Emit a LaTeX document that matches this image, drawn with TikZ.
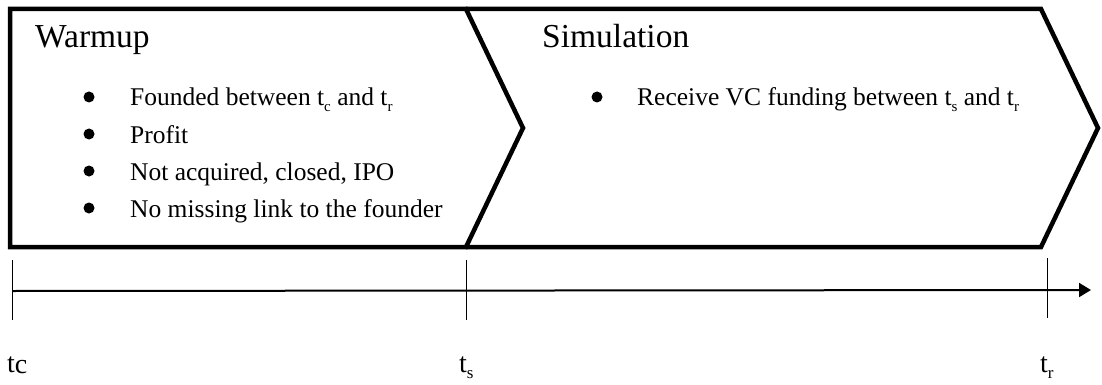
\documentclass[tikz,border=0pt]{standalone}
\usepackage{fontspec}
\setmainfont{Liberation Serif}
\usetikzlibrary{arrows.meta}
\newcommand{\lowsub}[1]{\raisebox{-0.5ex}{\fontsize{15}{15}\selectfont #1}}
\tikzset{
  chev/.style={line width=4.5pt, line join=miter, draw=black},
  title/.style={anchor=base west, font=\fontsize{33.5}{36}\selectfont, inner sep=0pt},
  item/.style={anchor=base west, font=\fontsize{25.5}{28}\selectfont, inner sep=0pt},
  dot/.style={circle, fill=black, inner sep=0pt, minimum size=11pt},
  tick/.style={line width=1pt},
  tlabel/.style={anchor=base west, font=\fontsize{28}{30}\selectfont, inner sep=0pt},
}
\begin{document}
\begin{tikzpicture}[x=1pt,y=-1pt]
\useasboundingbox (0,0) rectangle (1102,385);
% chevrons
\coordinate (a1) at (10,9);
\coordinate (a2) at (466,9);
\coordinate (a3) at (523,128);
\coordinate (a4) at (466,247);
\coordinate (a5) at (10,247);
\coordinate (b2) at (1041,9);
\coordinate (b3) at (1098,128);
\coordinate (b4) at (1041,247);
\draw[chev, fill=white] (a1) -- (a2) -- (a3) -- (a4) -- (a5) -- cycle;
\draw[chev] (a2) -- (b2) -- (b3) -- (b4) -- (a4);
% titles
\node[title] (warm) at (35,48) {Warmup};
\node[title] (sim) at (542,48) {Simulation};
% warmup items
\node[dot] (d1) at (89,97) {};
\node[item] (i1) at (130,106) {Founded between t\lowsub{c} and t\lowsub{r}};
\node[dot] (d2) at (89,134) {};
\node[item] (i2) at (130,143) {Profit};
\node[dot] (d3) at (89,171) {};
\node[item] (i3) at (130,180) {Not acquired, closed, IPO};
\node[dot] (d4) at (89,208) {};
\node[item] (i4) at (130,217) {No missing link to the founder};
% simulation items
\node[dot] (d5) at (597,97) {};
\node[item] (i5) at (637,106) {Receive VC funding between t\lowsub{s} and t\lowsub{r}};
% timeline
\coordinate (tc0) at (12,260); \coordinate (tc1) at (12,320);
\coordinate (ts0) at (466,260); \coordinate (ts1) at (466,320);
\coordinate (tr0) at (1047,258); \coordinate (tr1) at (1047,318);
\coordinate (ax0) at (13,291);
\coordinate (ax1) at (1091,290);
\draw[line width=2pt, -{Triangle[length=12pt,width=14pt]}] (ax0) -- (ax1);
\draw[tick] (tc0) -- (tc1);
\draw[tick] (ts0) -- (ts1);
\draw[tick] (tr0) -- (tr1);
\node[tlabel] (lc) at (7,372) {t\raisebox{-0.1ex}{c}};
\node[tlabel] (ls) at (459,372) {t\lowsub{\fontsize{17}{17}\selectfont s}};
\node[tlabel] (lr) at (1040,372) {t\lowsub{\fontsize{17}{17}\selectfont r}};
\end{tikzpicture}
\end{document}
